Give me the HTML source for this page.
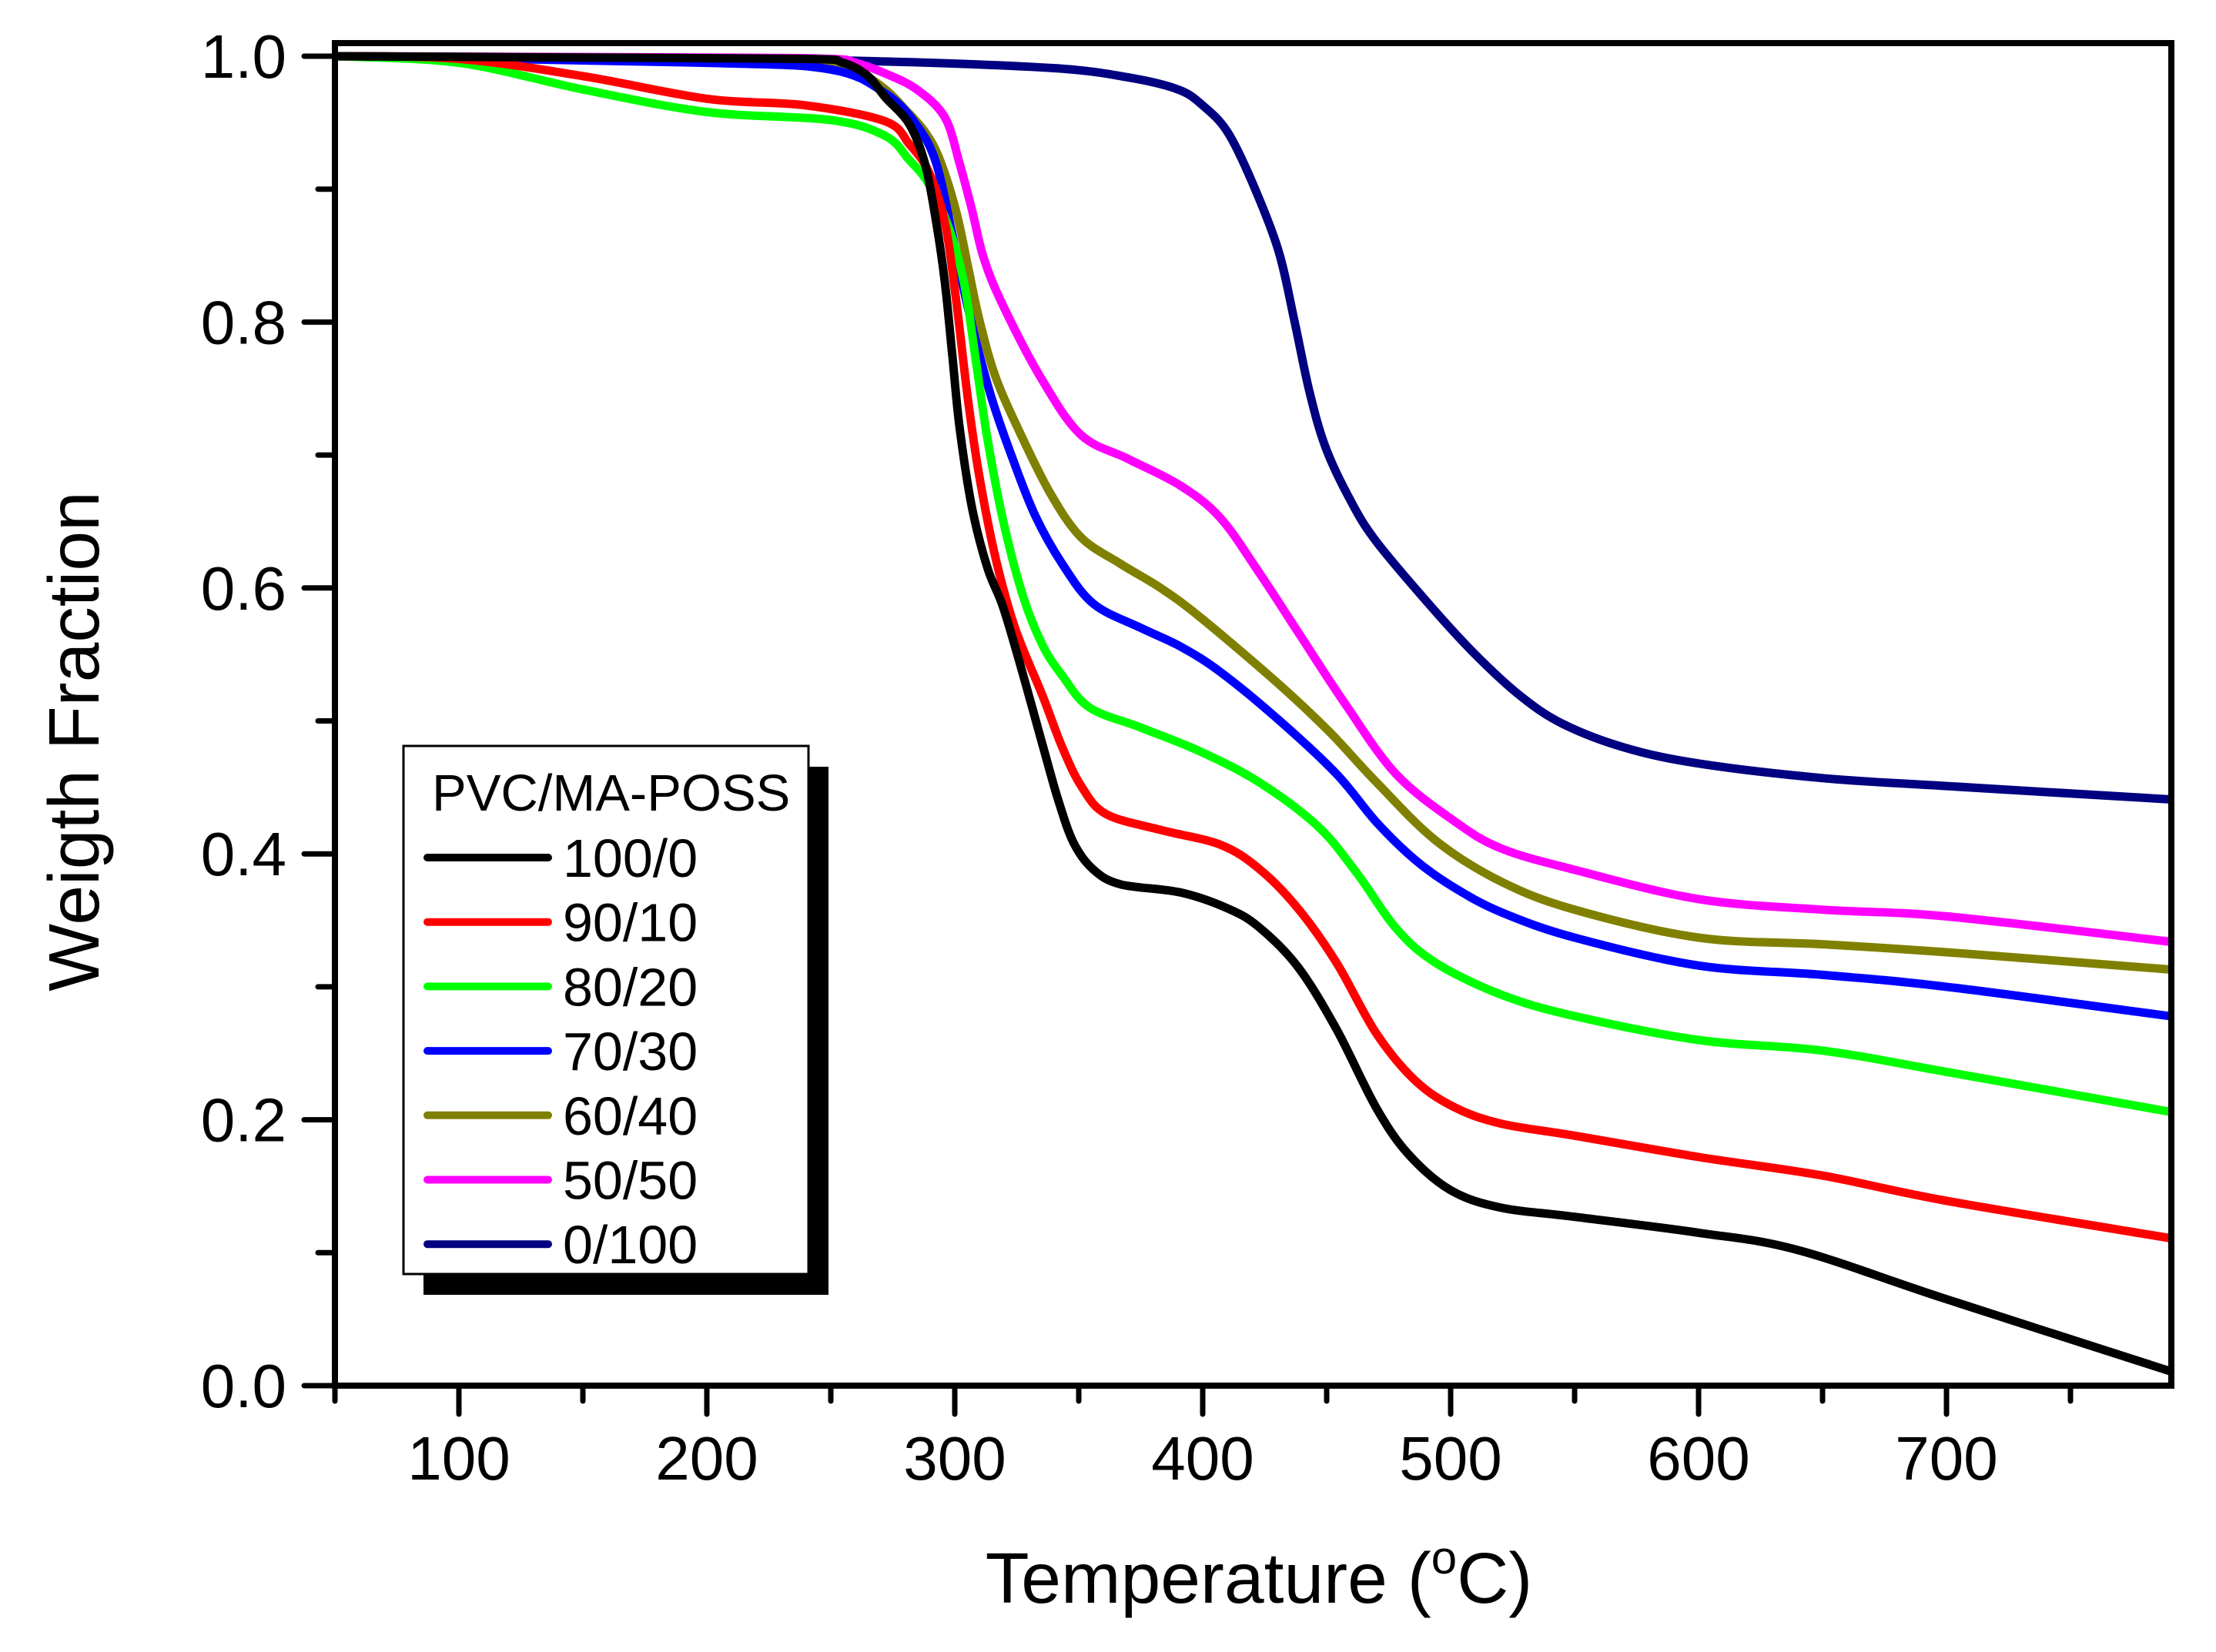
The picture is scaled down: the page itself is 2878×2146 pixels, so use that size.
<!DOCTYPE html>
<html><head><meta charset="utf-8"><style>
html,body{margin:0;padding:0;background:#fff;}
svg{display:block;font-family:"Liberation Sans",Arial,sans-serif;}
</style></head><body>
<svg id="chart" width="2878" height="2146" viewBox="0 0 2878 2146" xmlns="http://www.w3.org/2000/svg">
<rect width="2878" height="2146" fill="#fff"/>
<g id="series"></g>
<g id="axes"></g>
<g id="legend"></g>
<text x="1635" y="2082" font-size="93" text-anchor="middle">Temperature (<tspan font-size="60" dy="-38">o</tspan><tspan dy="38">C)</tspan></text>
<text transform="translate(128,963) rotate(-90)" font-size="93" text-anchor="middle">Weigth Fraction</text>
</svg>
<script>
const seriesNames = ["100/0","90/10","80/20","70/30","60/40","50/50","0/100"];
const seriesColors = ["#000000","#ff0000","#00ff00","#0000ff","#808000","#ff00ff","#000080"];
const xTicks = [100,200,300,400,500,600,700];
const yTicks = [0.0,0.2,0.4,0.6,0.8,1.0];
const yTickLabels = ["0.0","0.2","0.4","0.6","0.8","1.0"];
const t100 = [50,150,240,255,265,272,281.6,288,292.6,296,299,302,307,313.2,319.6,327.5,335.4,341.8,348,356,367,391,410,422.6,438.4,454,470,483,500,520,550,600,640,700,790];
const w100 = [1.0,0.999,0.998,0.995,0.985,0.969,0.949,0.919,0.874,0.83,0.775,0.72,0.66,0.615,0.585,0.535,0.482,0.44,0.408,0.388,0.377,0.371,0.359,0.345,0.315,0.268,0.209,0.174,0.147,0.134,0.127,0.115,0.102,0.065,0.011];
const t90 = [50,100,150,200,240,272,281.6,289.5,296,300.6,305.3,310,316.4,324.3,335.4,343.4,351,361,383,407,422.6,438.4,454,470,486,502,520.5,550,600,650,700,790];
const w90 = [1.0,0.998,0.985,0.968,0.963,0.951,0.934,0.913,0.875,0.816,0.742,0.683,0.623,0.57,0.519,0.48,0.451,0.43,0.418,0.407,0.389,0.359,0.318,0.265,0.229,0.209,0.197,0.188,0.172,0.158,0.139,0.111];
const t80 = [50,100,150,200,250,272,281.6,289.5,297.4,303.7,308.5,313.2,319.6,327.5,335.4,343.4,354.4,375,399,422.6,446.3,462,478,494,520.5,550,600,650,700,790];
const w80 = [1.0,0.995,0.975,0.958,0.952,0.94,0.922,0.904,0.872,0.83,0.771,0.712,0.65,0.594,0.557,0.534,0.51,0.495,0.477,0.454,0.421,0.386,0.344,0.318,0.294,0.278,0.26,0.252,0.236,0.206];
const t70 = [50,200,250,272,284.7,292.6,299,303.7,308.5,315,322.8,332.3,343.4,356,375,391,407,430.5,454,470,486,502,520.5,550,600,650,700,790];
const w70 = [1.0,0.995,0.99,0.972,0.948,0.919,0.866,0.824,0.786,0.742,0.7,0.655,0.618,0.588,0.57,0.556,0.537,0.501,0.46,0.424,0.395,0.374,0.356,0.337,0.316,0.309,0.3,0.278];
const t60 = [50,200,250,260,272,280,288,294,300.6,305.3,310,316.4,326,338.6,351,367,383,399,430.5,451,470,494,520.5,550,600,650,700,790];
const w60 = [1.0,0.998,0.995,0.99,0.975,0.96,0.943,0.922,0.883,0.842,0.801,0.759,0.718,0.671,0.638,0.618,0.6,0.578,0.528,0.492,0.454,0.41,0.379,0.358,0.337,0.332,0.326,0.313];
const t50 = [50,200,250,260,272,284.7,296,302,307,311.7,319.6,335.4,351,370,391,407,422.6,438.4,457.4,478,502,520.5,550,600,650,700,790];
const w50 = [1.0,0.999,0.998,0.995,0.987,0.975,0.954,0.919,0.884,0.848,0.812,0.756,0.715,0.697,0.677,0.653,0.612,0.567,0.513,0.46,0.424,0.404,0.388,0.366,0.358,0.353,0.334];
const t0 = [50,200,272,340,370,390,400,410,420,430.5,437,443,449.5,459,470,494,511,528,545,570,600,650,700,790];
const w0 = [1.0,0.998,0.996,0.991,0.984,0.975,0.963,0.943,0.905,0.854,0.801,0.748,0.706,0.668,0.635,0.582,0.548,0.519,0.498,0.48,0.468,0.457,0.451,0.441];

const allT = [t100,t90,t80,t70,t60,t50,t0];
const allW = [w100,w90,w80,w70,w60,w50,w0];

const X0=435, X1=2820, Y0=1800, YTOP=56;
const xMin=50, xMax=790;
function sx(t){ return X0 + (t - xMin) * 3.22; }
function sy(w){ return Y0 - w * 1727; }
const NS="http://www.w3.org/2000/svg";
function mk(tag, attrs, parent){ const e=document.createElementNS(NS,tag); for(const k in attrs) e.setAttribute(k,attrs[k]); parent.appendChild(e); return e; }

function pathFor(ts, ws){
  const p = ts.map((t,i)=>[sx(t), sy(ws[i])]);
  let d = "M"+p[0][0].toFixed(1)+","+p[0][1].toFixed(1);
  for(let i=0;i<p.length-1;i++){
    const p0=p[Math.max(0,i-1)], p1=p[i], p2=p[i+1], p3=p[Math.min(p.length-1,i+2)];
    const c1=[p1[0]+(p2[0]-p0[0])/6, p1[1]+(p2[1]-p0[1])/6];
    const c2=[p2[0]-(p3[0]-p1[0])/6, p2[1]-(p3[1]-p1[1])/6];
    d += " C"+c1[0].toFixed(1)+","+c1[1].toFixed(1)+" "+c2[0].toFixed(1)+","+c2[1].toFixed(1)+" "+p2[0].toFixed(1)+","+p2[1].toFixed(1);
  }
  return d;
}

const sg=document.getElementById("series");
mk("clipPath",{id:"clip"},sg).appendChild(document.createElementNS(NS,"rect"));
const cr=sg.querySelector("clipPath rect"); cr.setAttribute("x",X0); cr.setAttribute("y",YTOP); cr.setAttribute("width",X1-X0); cr.setAttribute("height",Y0-YTOP);
for(let s=allT.length-1;s>=0;s--){
  const el=mk("path",{d:pathFor(allT[s],allW[s]),fill:"none",stroke:seriesColors[s],"stroke-width":11,"stroke-linejoin":"round","clip-path":"url(#clip)"},sg);
  
  
}

const ag=document.getElementById("axes");
const frame=mk("rect",{x:X0,y:YTOP,width:X1-X0,height:Y0-YTOP,fill:"none",stroke:"#000","stroke-width":8},ag);


for(let t=50;t<=xMax;t+=50){
  const major = t%100===0;
  const tk=mk("line",{x1:sx(t),x2:sx(t),y1:Y0,y2:Y0+(major?37:20),stroke:"#000","stroke-width":7,"stroke-linecap":"round"},ag);
  
  
}
xTicks.forEach(t=>{
  const tx=mk("text",{x:sx(t),y:1922,"font-size":80,"text-anchor":"middle"},ag);
  tx.textContent=String(t);
  
  
});
for(let k=0;k<=10;k++){
  const w=k/10, major=k%2===0;
  const tk=mk("line",{x1:X0-(major?40:22),x2:X0,y1:sy(w),y2:sy(w),stroke:"#000","stroke-width":7,"stroke-linecap":"round"},ag);
  
  
}
yTicks.forEach((w,i)=>{
  const tx=mk("text",{x:372,y:sy(w)+28,"font-size":80,"text-anchor":"end"},ag);
  tx.textContent=yTickLabels[i];
  
  
});

const lg=document.getElementById("legend");
const sh=mk("rect",{x:550,y:996,width:526,height:686,fill:"#000"},lg);


const bx=mk("rect",{x:524,y:969,width:526,height:686,fill:"#fff",stroke:"#000","stroke-width":3},lg);


const lt=mk("text",{x:561,y:1053,"font-size":67},lg);
lt.textContent="PVC/MA-POSS";


seriesNames.forEach((n,i)=>{
  const y=1114+i*83.7;
  const ln=mk("line",{x1:555,x2:712,y1:y,y2:y,stroke:seriesColors[i],"stroke-width":10,"stroke-linecap":"round"},lg);
  
  
  const tx=mk("text",{x:731,y:y+25,"font-size":70},lg);
  tx.textContent=n;
  
  
});
</script>
</body></html>
